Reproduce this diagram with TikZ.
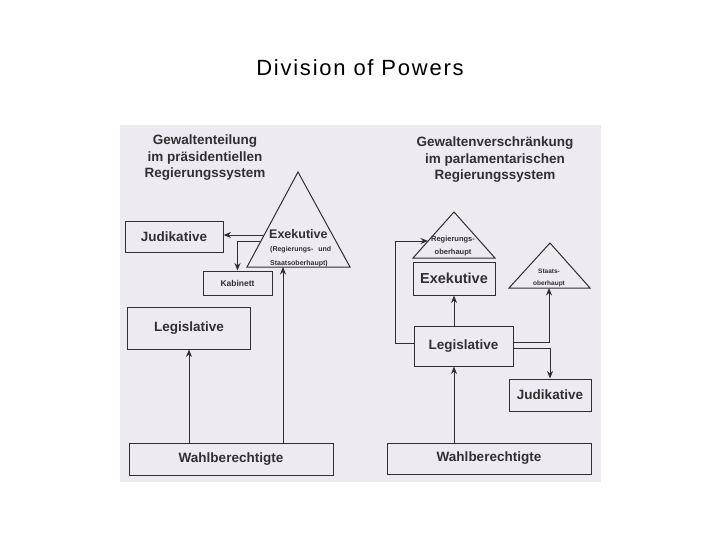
\documentclass[tikz,border=0pt]{standalone}
\usepackage{fontspec}
\setmainfont{Liberation Sans}
\newfontfamily\titlefont[LetterSpace=8]{Liberation Sans}
\usetikzlibrary{arrows.meta,positioning,calc}
\definecolor{panelbg}{HTML}{EDEBF0}
\definecolor{inkgray}{HTML}{303030}

\begin{document}
\begin{tikzpicture}[x=1pt, y=-1pt,
  box/.style={rectangle, draw=inkgray, line width=1pt, inner sep=0pt, align=center, text=inkgray, font=\bfseries\fontsize{13.5}{16}\selectfont},
  heading/.style={align=center, text=inkgray, font=\bfseries\fontsize{13.5}{16.5}\selectfont},
  tiny/.style={text=inkgray, inner sep=0pt, font=\bfseries\fontsize{7}{9}\selectfont},
  wire/.style={draw=inkgray, line width=1pt},
  >={Stealth[length=7.5pt,width=6pt]}
]
\useasboundingbox (0,0) rectangle (720,540);
\node[font=\titlefont\fontsize{22}{26}\selectfont] (title) at (360,68) {Division of Powers};
\fill[panelbg] (120,125) rectangle (601,482);

% praesidentielles Regierungssystem
\node[heading] (headL) at (205,158) {Gewaltenteilung\\im präsidentiellen\\Regierungssystem};
\coordinate (exeTop) at (298,172);
\coordinate (exeLeft) at (247,267);
\coordinate (exeRight) at (350,267);
\draw[wire] (exeTop) -- (exeLeft) -- (exeRight) -- cycle;
\node[text=inkgray, font=\bfseries\fontsize{12.5}{15}\selectfont, anchor=west, inner sep=0pt] (exeL) at (269,234) {Exekutive};
\node[tiny, anchor=west, align=left, font=\bfseries\fontsize{7}{13.5}\selectfont] (exeLsub) at (270,256.5) {(Regierungs-\hspace{5pt}und\\Staatsoberhaupt)};

\node[box, minimum width=98, minimum height=30] (jud) at (174,237) {Judikative};
\node[box, minimum width=69, minimum height=24, font=\bfseries\fontsize{8.5}{10}\selectfont] (kab) at (237.5,283) {Kabinett};
\node[box, minimum width=123, minimum height=42] (leg) at (189,328) {Legislative};
\node[box, minimum width=204, minimum height=32] (wahlL) at (231,459) {Wahlberechtigte};

\coordinate (exeJ) at (264,235);
\coordinate (exeK) at (261,241);
\coordinate (exeB) at (283,267);
\draw[wire,->] (exeJ) -- (exeJ -| jud.east);
\draw[wire,->] (exeK) -| (kab.north);
\draw[wire,->] (wahlL.north -| exeB) -- (exeB);
\draw[wire,->] (wahlL.north -| leg.south) -- (leg.south);

% parlamentarisches Regierungssystem
\node[heading] (headR) at (495,160) {Gewaltenverschränkung\\im parlamentarischen\\Regierungssystem};
\coordinate (regTop) at (454,212);
\coordinate (regLeft) at (413,258);
\coordinate (regRight) at (495,258);
\draw[wire] (regTop) -- (regLeft) -- (regRight) -- cycle;
\node[tiny, align=center, font=\bfseries\fontsize{7.5}{13}\selectfont] (regText) at (453,246.5) {Regierungs-\\oberhaupt};

\coordinate (staTop) at (550,243);
\coordinate (staLeft) at (509,288);
\coordinate (staRight) at (590,288);
\draw[wire] (staTop) -- (staLeft) -- (staRight) -- cycle;
\node[tiny, align=center, font=\bfseries\fontsize{6.5}{12}\selectfont] (staText) at (549,278) {Staats-\\oberhaupt};

\node[box, minimum width=82, minimum height=33, font=\bfseries\fontsize{14.5}{17}\selectfont] (exeR) at (454,278.5) {Exekutive};
\node[box, minimum width=99, minimum height=40] (legR) at (463.5,346) {Legislative};
\node[box, minimum width=82, minimum height=32] (judR) at (550,395) {Judikative};
\node[box, minimum width=204, minimum height=31] (wahlR) at (489,458.5) {Wahlberechtigte};

\coordinate (regL) at (428,241);
\coordinate (loopL) at (395,343);
\coordinate (staB) at (549,288);
\draw[wire,->] (legR.north -| exeR.south) -- (exeR.south);
\draw[wire,->] (wahlR.north -| exeR.south) -- (exeR.south |- legR.south);
\draw[wire,->] (legR.west |- loopL) -- (loopL) |- (regL);
\draw[wire,->] ([yshift=4pt]legR.east) -| (staB);
\draw[wire,->] ([yshift=-2pt]legR.east) -| (judR.north);
\end{tikzpicture}
\end{document}
